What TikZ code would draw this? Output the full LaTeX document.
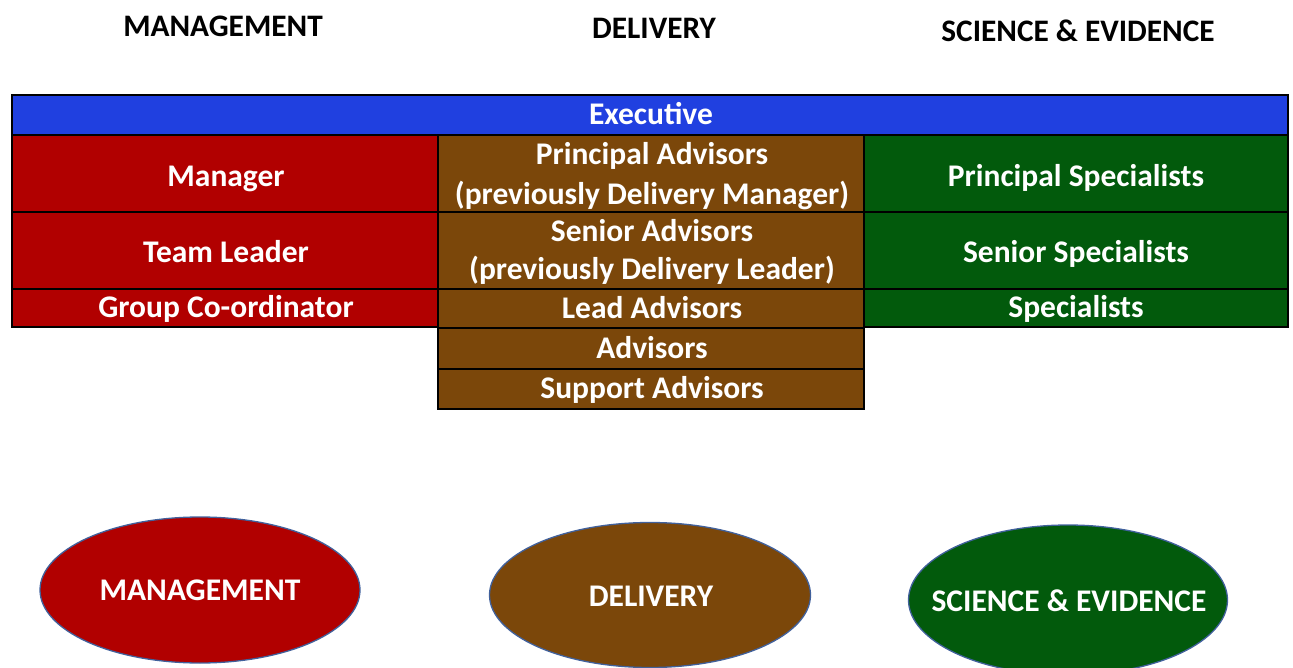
\documentclass[tikz,border=0pt]{standalone}
\usepackage{fontspec}
\setmainfont{Carlito}
\usetikzlibrary{shapes.geometric}
\definecolor{cblue}{HTML}{2040E0}
\definecolor{cred}{HTML}{B10000}
\definecolor{cbrown}{HTML}{7B470A}
\definecolor{cgreen}{HTML}{025A0C}
\definecolor{ovalline}{HTML}{41619C}
\begin{document}
\begin{tikzpicture}[x=1pt,y=-1pt,
  cell/.style={draw=black, line width=1.5pt, rectangle, inner sep=0pt},
  oval/.style={ellipse, draw=ovalline, line width=1.3pt, inner sep=0pt},
  txt/.style={inner sep=0pt, anchor=base, text=white, font=\fontsize{31.5}{38}\selectfont\bfseries},
  head/.style={inner sep=0pt, anchor=base, text=black, font=\fontsize{31.3}{38}\selectfont\bfseries}]
\useasboundingbox (0,0) rectangle (1293,668);
% headers
\node[head] (hm) at (223,36.5) {MANAGEMENT};
\node[head] (hd) at (654,38.5) {DELIVERY};
\node[head] (hs) at (1078,41.5) {SCIENCE \& EVIDENCE};
% executive
\node[cell, fill=cblue, minimum width=1276pt, minimum height=40pt] (exec) at (650,115) {};
\node[txt] (exect) at (651,125) {Executive};
% management column
\node[cell, fill=cred, minimum width=426pt, minimum height=77pt] (man) at (225,173.5) {};
\node[cell, fill=cred, minimum width=426pt, minimum height=77pt] (tl) at (225,250.5) {};
\node[cell, fill=cred, minimum width=426pt, minimum height=38pt] (gc) at (225,308) {};
\node[txt] (mant) at (226,187) {Manager};
\node[txt] (tlt) at (226,263) {Team Leader};
\node[txt] (gct) at (226,318) {Group Co-ordinator};
% delivery column
\node[cell, fill=cbrown, minimum width=426pt, minimum height=77pt] (pa) at (651,173.5) {};
\node[cell, fill=cbrown, minimum width=426pt, minimum height=77pt] (sa) at (651,250.5) {};
\node[cell, fill=cbrown, minimum width=426pt, minimum height=39pt] (la) at (651,308.5) {};
\node[cell, fill=cbrown, minimum width=426pt, minimum height=41pt] (ad) at (651,348.5) {};
\node[cell, fill=cbrown, minimum width=426pt, minimum height=40pt] (su) at (651,389) {};
\node[txt] (pat1) at (652,165) {Principal Advisors};
\node[txt] (pat2) at (652,205) {(previously Delivery Manager)};
\node[txt] (sat1) at (652,241.5) {Senior Advisors};
\node[txt] (sat2) at (652,280) {(previously Delivery Leader)};
\node[txt] (lat) at (652,318.3) {Lead Advisors};
\node[txt] (adt) at (652,358) {Advisors};
\node[txt] (sut) at (652,398) {Support Advisors};
% science column
\node[cell, fill=cgreen, minimum width=424pt, minimum height=77pt] (ps) at (1076,173.5) {};
\node[cell, fill=cgreen, minimum width=424pt, minimum height=77pt] (ss) at (1076,250.5) {};
\node[cell, fill=cgreen, minimum width=424pt, minimum height=38pt] (sp) at (1076,308) {};
\node[txt] (pst) at (1076,187) {Principal Specialists};
\node[txt] (sst) at (1076,263) {Senior Specialists};
\node[txt] (spt) at (1076,318) {Specialists};
% ovals
\node[oval, fill=cred, minimum width=320pt, minimum height=146pt] (om) at (200,590) {};
\node[oval, fill=cbrown, minimum width=321pt, minimum height=145pt] (od) at (650,595) {};
\node[oval, fill=cgreen, minimum width=319pt, minimum height=150pt] (os) at (1068,600) {};
\node[txt] (omt) at (200,600) {MANAGEMENT};
\node[txt] (odt) at (651,606) {DELIVERY};
\node[txt] (ost) at (1069,611.7) {SCIENCE \& EVIDENCE};
\end{tikzpicture}
\end{document}
